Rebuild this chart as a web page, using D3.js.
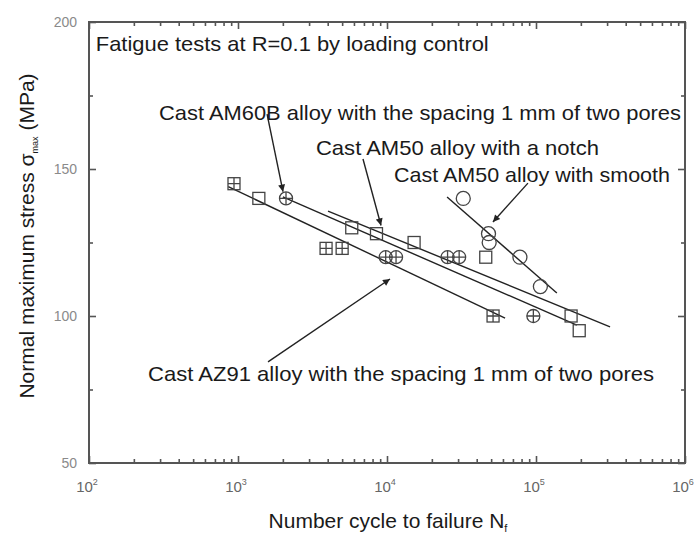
<!DOCTYPE html>
<html>
<head>
<meta charset="utf-8">
<script src="https://cdn.jsdelivr.net/npm/d3@7"></script>
<style>
  html, body { margin: 0; padding: 0; background: #fff; }
  svg { display: block; font-family: "Liberation Sans", Arial, sans-serif; }
</style>
</head>
<body>
<svg id="chart" width="698" height="533"></svg>
<script>
// ---------------- data ----------------
const xDomain = [1e2, 1e6];
const yDomain = [50, 200];
const xTickValues = [1e2, 1e3, 1e4, 1e5, 1e6];
const xTickExponents = ["2", "3", "4", "5", "6"];
const yTickValues = [50, 100, 150, 200];
const yMinorTicks = [75, 125, 175];

// Cast AZ91, spacing 1 mm of two pores (square with cross)
const az91N = [940, 3900, 5000, 51500];
const az91S = [145, 123, 123, 100];
// Cast AM60B, spacing 1 mm of two pores (circle with cross)
const am60bN = [2100, 9800, 11500, 25500, 30500, 96000];
const am60bS = [140, 120, 120, 120, 120, 100];
// Cast AM50 with a notch (open square)
const notchN = [1380, 5800, 8500, 15200, 46000, 172000, 195000];
const notchS = [140, 130, 128, 125, 120, 100, 95];
// Cast AM50 smooth (open circle)
const smoothN = [32500, 48000, 48500, 78000, 107000];
const smoothS = [140, 128, 125, 120, 110];

// fitted lines [N, S] start / end
const az91Fit = [[860, 144], [62000, 99.3]];
const am60bFit = [[2000, 140.5], [188000, 96.9]];
const notchFit = [[4020, 135.7], [314000, 96.3]];
const smoothFit = [[25300, 140.5], [138000, 107.8]];

// annotations
const annTexts = [
  "Fatigue tests at R=0.1 by loading control",
  "Cast AM60B alloy with the spacing 1 mm of two pores",
  "Cast AM50 alloy with a notch",
  "Cast AM50 alloy with smooth",
  "Cast AZ91 alloy with the spacing 1 mm of two pores"
];
const annAnchorN = [111, 295, 3335, 11140, 249];
const annAnchorS = [190, 166.6, 154.6, 145.5, 77.8];
const annLengths = [393, 522, 283, 276, 506];
// arrows: from [N,S] to [N,S]
const arrowFrom = [[1567, 168.7], [6900, 153.4], [88300, 145.2], [1590, 84.4]];
const arrowTo = [[2005, 142.3], [9120, 130.8], [51400, 132.0], [10470, 112.6]];

// ---------------- drawing ----------------
const svg = d3.select("#chart");
const L = 89, R = 685, T = 22, B = 463;
const x = d3.scaleLog().domain(xDomain).range([L, R]);
const y = d3.scaleLinear().domain(yDomain).range([B, T]);
const axisColor = "#555";
const ink = "#1a1a1a";

// minor ticks for log axis
const xMinor = [];
for (let e = 2; e < 6; e++) for (let m = 2; m <= 9; m++) xMinor.push(m * Math.pow(10, e));

function styleAxis(g) {
  g.select(".domain").remove();
  g.selectAll(".tick line").attr("stroke", axisColor).attr("stroke-width", 1.6);
  g.selectAll(".tick text").remove();
}

// bottom
svg.append("g").attr("transform", `translate(0,${B})`)
  .call(d3.axisBottom(x).tickValues(xTickValues).tickSize(-7).tickFormat("")).call(styleAxis);
svg.append("g").attr("transform", `translate(0,${B})`)
  .call(d3.axisBottom(x).tickValues(xMinor).tickSize(-4).tickFormat("")).call(styleAxis);
// top
svg.append("g").attr("transform", `translate(0,${T})`)
  .call(d3.axisTop(x).tickValues(xTickValues).tickSize(-7).tickFormat("")).call(styleAxis);
svg.append("g").attr("transform", `translate(0,${T})`)
  .call(d3.axisTop(x).tickValues(xMinor).tickSize(-4).tickFormat("")).call(styleAxis);
// left
svg.append("g").attr("transform", `translate(${L},0)`)
  .call(d3.axisLeft(y).tickValues(yTickValues).tickSize(-7).tickFormat("")).call(styleAxis);
svg.append("g").attr("transform", `translate(${L},0)`)
  .call(d3.axisLeft(y).tickValues(yMinorTicks).tickSize(-4).tickFormat("")).call(styleAxis);
// right
svg.append("g").attr("transform", `translate(${R},0)`)
  .call(d3.axisRight(y).tickValues(yTickValues).tickSize(-7).tickFormat("")).call(styleAxis);
svg.append("g").attr("transform", `translate(${R},0)`)
  .call(d3.axisRight(y).tickValues(yMinorTicks).tickSize(-4).tickFormat("")).call(styleAxis);

// frame
svg.append("rect").attr("x", L).attr("y", T).attr("width", R - L).attr("height", B - T)
  .attr("fill", "none").attr("stroke", axisColor).attr("stroke-width", 2);

// tick labels
svg.append("g").selectAll("text").data(yTickValues).join("text")
  .attr("x", L - 12).attr("y", d => y(d)).attr("dy", "0.35em")
  .attr("text-anchor", "end").attr("font-size", 14).attr("fill", "#8a8a8a")
  .text(d => d);

const xl = svg.append("g").selectAll("text").data(xTickValues).join("text")
  .attr("x", (d) => x(d) - 2).attr("y", B + 29)
  .attr("text-anchor", "middle").attr("font-size", 15).attr("fill", "#666");
xl.append("tspan").text("10");
xl.append("tspan").attr("font-size", 9).attr("dy", -7).text((d, i) => xTickExponents[i]);

// axis titles
const xt = svg.append("text").attr("x", 388).attr("y", 528).attr("text-anchor", "middle")
  .attr("font-size", 21).attr("fill", ink);
xt.append("tspan").text("Number cycle to failure N");
xt.append("tspan").attr("font-size", 11).attr("dy", 4).text("f");

const yt = svg.append("text").attr("transform", "translate(34,236) rotate(-90)")
  .attr("text-anchor", "middle").attr("font-size", 21).attr("fill", ink);
yt.append("tspan").text("Normal maximum stress σ");
yt.append("tspan").attr("font-size", 9).attr("dy", 4).text("max");
yt.append("tspan").attr("dy", -4).text(" (MPa)");

// fit lines
const lineGen = d3.line().x(d => x(d[0])).y(d => y(d[1]));
svg.append("g").selectAll("path").data([az91Fit, am60bFit, notchFit, smoothFit]).join("path")
  .attr("d", lineGen).attr("fill", "none").attr("stroke", "#222").attr("stroke-width", 1.4);

// markers
const mk = svg.append("g").attr("fill", "none").attr("stroke", "#444").attr("stroke-width", 1.3);
const h = 6;
// AZ91: square with cross
const az = mk.selectAll("g.az").data(d3.zip(az91N, az91S)).join("g")
  .attr("transform", d => `translate(${x(d[0])},${y(d[1])})`);
az.append("rect").attr("x", -h).attr("y", -h).attr("width", 2 * h).attr("height", 2 * h);
az.append("path").attr("d", `M${-h},0H${h}M0,${-h}V${h}`);
// AM60B: circle with cross
const am = mk.selectAll("g.am").data(d3.zip(am60bN, am60bS)).join("g")
  .attr("transform", d => `translate(${x(d[0])},${y(d[1])})`);
am.append("circle").attr("r", 6.5);
am.append("path").attr("d", `M-6.5,0H6.5M0,-6.5V6.5`);
// notch: open square
mk.selectAll("rect.nt").data(d3.zip(notchN, notchS)).join("rect")
  .attr("x", d => x(d[0]) - h).attr("y", d => y(d[1]) - h)
  .attr("width", 2 * h).attr("height", 2 * h);
// smooth: open circle
mk.selectAll("circle.sm").data(d3.zip(smoothN, smoothS)).join("circle")
  .attr("cx", d => x(d[0])).attr("cy", d => y(d[1])).attr("r", 7);

// arrows
svg.append("defs").append("marker").attr("id", "ah")
  .attr("viewBox", "0 0 10 10").attr("refX", 10).attr("refY", 5)
  .attr("markerWidth", 9).attr("markerHeight", 7).attr("markerUnits", "userSpaceOnUse")
  .attr("orient", "auto")
  .append("path").attr("d", "M0,0L10,5L0,10z").attr("fill", "#222");
svg.append("g").selectAll("line").data(d3.zip(arrowFrom, arrowTo)).join("line")
  .attr("x1", d => x(d[0][0])).attr("y1", d => y(d[0][1]))
  .attr("x2", d => x(d[1][0])).attr("y2", d => y(d[1][1]))
  .attr("stroke", "#222").attr("stroke-width", 1.4).attr("marker-end", "url(#ah)");

// annotation texts
svg.append("g").selectAll("text").data(annTexts).join("text")
  .attr("x", (d, i) => x(annAnchorN[i])).attr("y", (d, i) => y(annAnchorS[i]))
  .attr("font-size", 21).attr("fill", ink)
  .attr("textLength", (d, i) => annLengths[i]).attr("lengthAdjust", "spacingAndGlyphs")
  .text(d => d);
</script>
</body>
</html>
